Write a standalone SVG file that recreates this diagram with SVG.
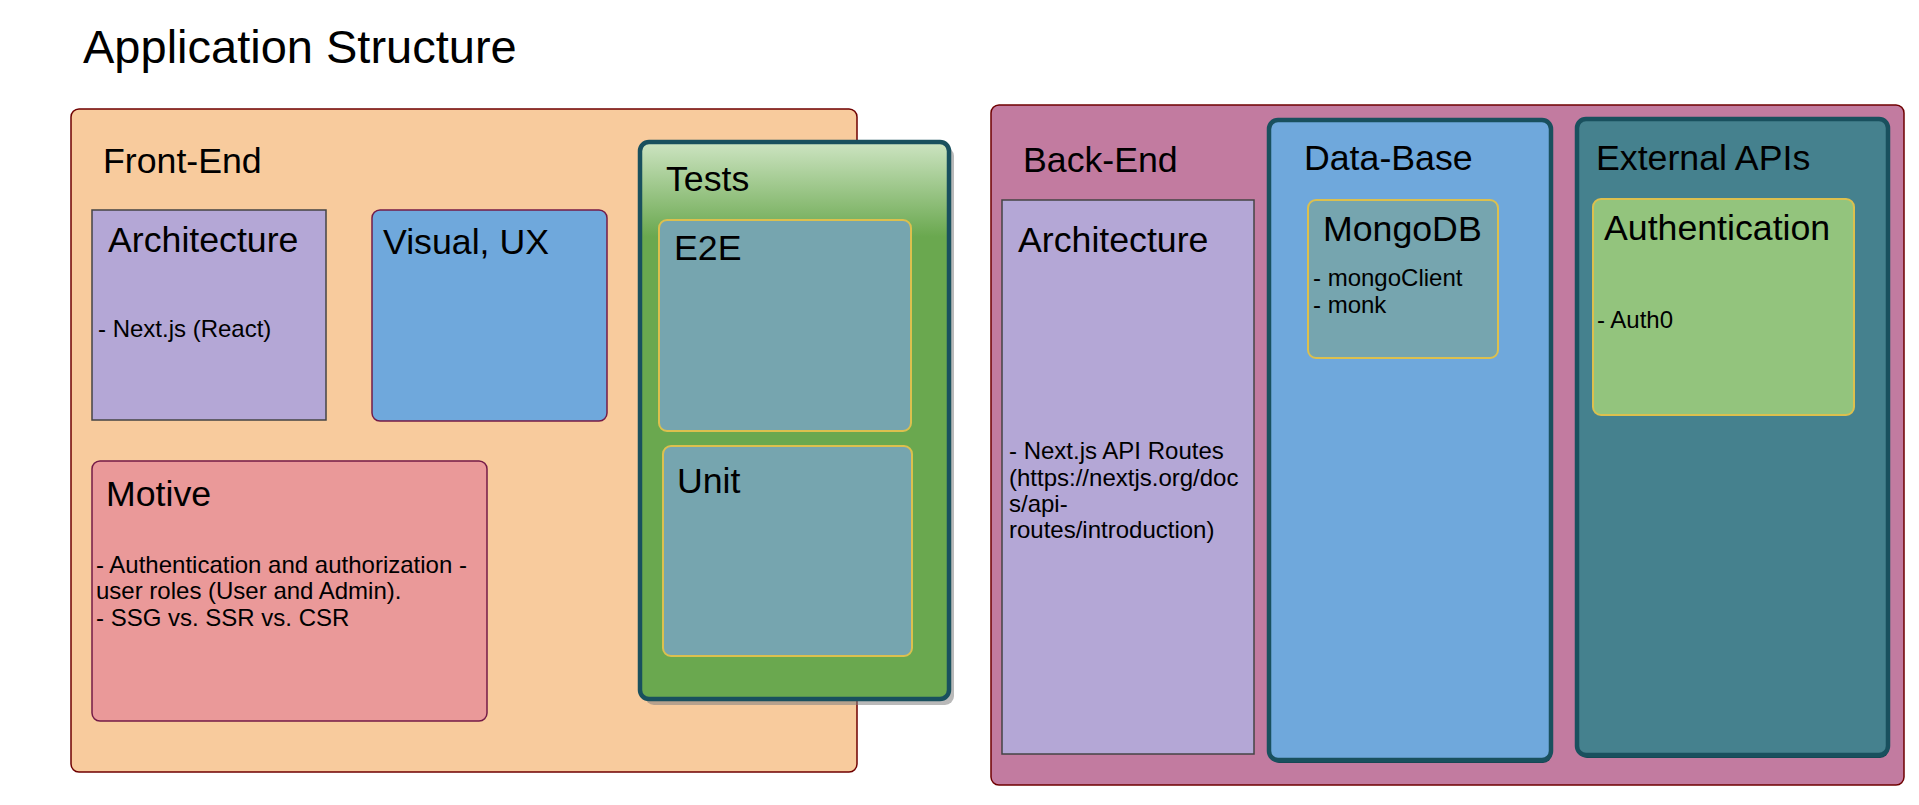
<svg xmlns="http://www.w3.org/2000/svg" width="1919" height="805" viewBox="0 0 1919 805">
<defs>
<linearGradient id="testsGrad" x1="0" y1="0" x2="0" y2="1">
<stop offset="0" stop-color="#CDE4C2"/>
<stop offset="0.17" stop-color="#6AA84F"/>
<stop offset="1" stop-color="#6AA84F"/>
</linearGradient>
<style>
text{font-family:"Liberation Sans",Arial,sans-serif;fill:#000}
.title{font-size:47px}
.h{font-size:35.7px}
.b{font-size:24px}
.cont{stroke:#6F0000;stroke-width:1.5}
.arch{fill:#B4A7D6;stroke:#444;stroke-width:1.5}
.thick{stroke:#19505E;stroke-width:4.5}
.yel{fill:#76A5AF;stroke:#DCC04E;stroke-width:2}
.maroon{stroke:#741B47;stroke-width:1.5}
</style>
</defs>
<rect width="1919" height="805" fill="#fff"/>
<text class="title" x="83" y="63">Application Structure</text>

<g id="front-end">
<rect class="cont" x="71" y="109" width="786" height="663" rx="8" fill="#F8CB9D"/>
<text class="h" x="103" y="173">Front-End</text>
</g>
<g id="fe-architecture">
<rect class="arch" x="92" y="210" width="234" height="210"/>
<text class="h" x="108" y="252">Architecture</text>
<text class="b" x="98" y="337">- Next.js (React)</text>
</g>
<g id="visual-ux">
<rect class="maroon" x="372" y="210" width="235" height="211" rx="8" fill="#6FA8DC"/>
<text class="h" x="383" y="254">Visual, UX</text>
</g>
<g id="motive">
<rect class="maroon" x="92" y="461" width="395" height="260" rx="8" fill="#EA9999"/>
<text class="h" x="106" y="506">Motive</text>
<text class="b" x="96" y="573">- Authentication and authorization -</text>
<text class="b" x="96" y="599">user roles (User and Admin).</text>
<text class="b" x="96" y="626">- SSG vs. SSR vs. CSR</text>
</g>
<g id="tests">
<rect x="645" y="147" width="309" height="558" rx="9" fill="#808080" opacity="0.55"/>
<rect class="thick" x="640" y="142" width="309" height="557" rx="9" fill="url(#testsGrad)"/>
<text class="h" x="666" y="191">Tests</text>
</g>
<g id="e2e">
<rect class="yel" x="659" y="220" width="252" height="211" rx="8"/>
<text class="h" x="674" y="260">E2E</text>
</g>
<g id="unit">
<rect class="yel" x="663" y="446" width="249" height="210" rx="8"/>
<text class="h" x="677" y="493">Unit</text>
</g>

<g id="back-end">
<rect class="cont" x="991" y="105" width="913" height="680" rx="8" fill="#C27BA0"/>
<text class="h" x="1023" y="172">Back-End</text>
</g>
<g id="be-architecture">
<rect class="arch" x="1002" y="200" width="252" height="554"/>
<text class="h" x="1018" y="252">Architecture</text>
<text class="b" x="1009" y="459">- Next.js API Routes</text>
<text class="b" x="1009" y="486">(https://nextjs.org/doc</text>
<text class="b" x="1009" y="512">s/api-</text>
<text class="b" x="1009" y="538">routes/introduction)</text>
</g>
<g id="data-base">
<rect x="1270" y="122" width="282" height="641" rx="9" fill="#164552"/>
<rect class="thick" x="1269" y="120" width="282" height="640" rx="9" fill="#6FA8DC"/>
<text class="h" x="1304" y="170">Data-Base</text>
</g>
<g id="mongodb">
<rect class="yel" x="1308" y="200" width="190" height="158" rx="8"/>
<text class="h" x="1323" y="241">MongoDB</text>
<text class="b" x="1313" y="286">- mongoClient</text>
<text class="b" x="1313" y="313">- monk</text>
</g>
<g id="external-apis">
<rect x="1578" y="120" width="311" height="638" rx="9" fill="#164552"/>
<rect class="thick" x="1577" y="119" width="311" height="636" rx="9" fill="#45818E"/>
<text class="h" x="1596" y="170">External APIs</text>
</g>
<g id="authentication">
<rect x="1593" y="199" width="261" height="216" rx="8" fill="#93C47D" stroke="#DCC04E" stroke-width="2"/>
<text class="h" x="1604" y="240">Authentication</text>
<text class="b" x="1597" y="328">- Auth0</text>
</g>
<g id="connectors"></g>
</svg>
